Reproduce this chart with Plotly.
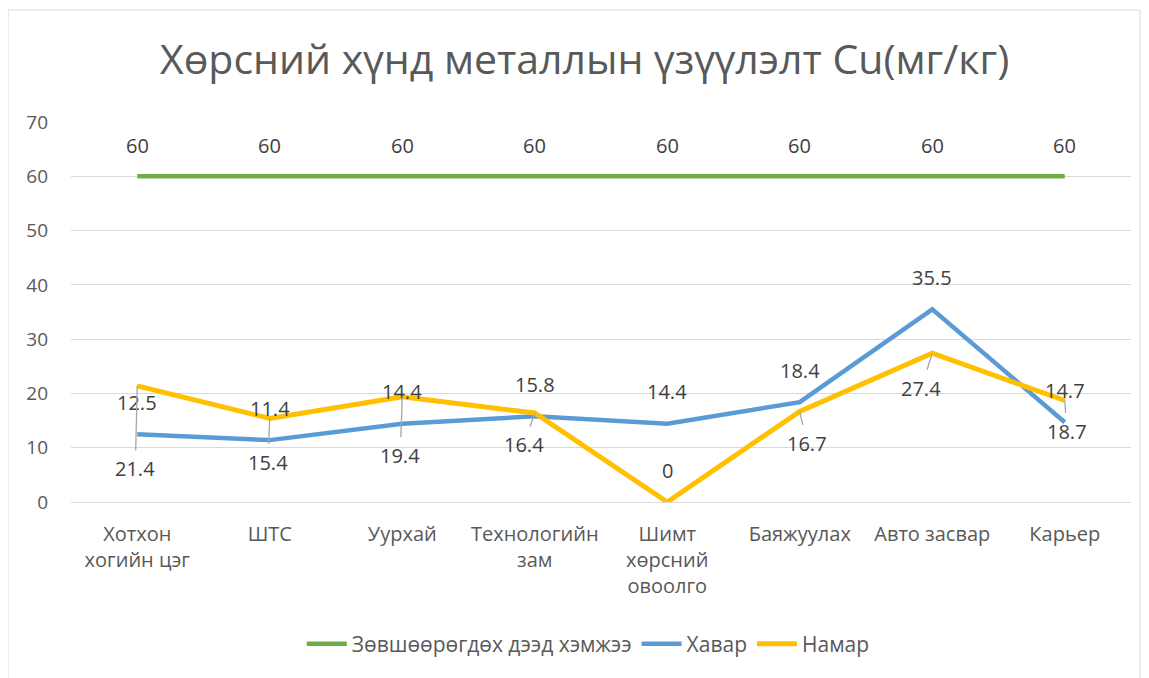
import plotly.graph_objects as go

categories = ["Хотхон<br>хогийн цэг", "ШТС", "Уурхай", "Технологийн<br>зам",
              "Шимт<br>хөрсний<br>овоолго", "Баяжуулах", "Авто засвар", "Карьер"]
limit_vals = [60, 60, 60, 60, 60, 60, 60, 60]
spring_vals = [12.5, 11.4, 14.4, 15.8, 14.4, 18.4, 35.5, 14.7]
autumn_vals = [21.4, 15.4, 19.4, 16.4, 0, 16.7, 27.4, 18.7]

series_names = ["Зөвшөөрөгдөх дээд хэмжээ", "Хавар", "Намар"]
colors = ["#70AD47", "#5B9BD5", "#FFC000"]

# label offsets in pixels (dx, dy down-positive) for autumn labels
autumn_offsets = [(-2, 83), (-2, 44), (-2, 59), (-11, 32), (0, -32), (7, 32), (-11, 35), (2, 31)]
autumn_leader = [True, True, True, True, False, True, True, True]

FONT = "Open Sans"
x_idx = list(range(len(categories)))

fig = go.Figure()
for name, vals, col, w in zip(series_names, [limit_vals, spring_vals, autumn_vals], colors, [4.5, 4.5, 5]):
    fig.add_trace(go.Scatter(x=x_idx, y=vals, mode="lines", name=name,
                             line=dict(color=col, width=w), hoverinfo="skip"))

annotations = []
lbl_font = dict(family=FONT, size=20, color="#404040")
for i, v in enumerate(limit_vals):
    annotations.append(dict(x=i, y=v, xref="x", yref="y", text=str(v), showarrow=False,
                            yshift=31, font=lbl_font))
for i, v in enumerate(spring_vals):
    annotations.append(dict(x=i, y=v, xref="x", yref="y", text=str(v), showarrow=False,
                            yshift=32, font=lbl_font))
for i, v in enumerate(autumn_vals):
    dx, dy = autumn_offsets[i]
    annotations.append(dict(x=i, y=v, xref="x", yref="y", text=str(v), showarrow=True,
                            ax=dx, ay=dy, arrowhead=0, arrowwidth=1.3,
                            arrowcolor="#A6A6A6" if autumn_leader[i] else "rgba(0,0,0,0)",
                            standoff=0, borderpad=5, borderwidth=0, font=lbl_font))

annotations.append(dict(x=0.484, y=1.168, xref="paper", yref="paper", yanchor="middle",
                        text="Хөрсний хүнд металлын үзүүлэлт Cu(мг/кг)", showarrow=False,
                        font=dict(family=FONT, size=41, color="#595959")))

# page has an 8px body margin: figure is 8px smaller and shifted
fig.update_layout(
    width=1141, height=670,
    margin=dict(l=63, r=18, t=114, b=176),
    paper_bgcolor="white", plot_bgcolor="white",
    showlegend=True,
    legend=dict(orientation="h", x=0.488, xanchor="center", y=-0.374, yanchor="middle",
                font=dict(family=FONT, size=21, color="#595959"), itemwidth=40),
    annotations=annotations,
    shapes=[dict(type="rect", xref="paper", yref="paper", x0=-0.0594, x1=1.0085,
                 y0=-0.52, y1=1.2947, line=dict(color="#D9D9D9", width=1))],
)
fig.update_xaxes(range=[-0.5, 7.5], tickvals=x_idx, ticktext=categories, showgrid=False,
                 zeroline=False, showline=False, ticks="", ticklabelstandoff=18,
                 tickfont=dict(family=FONT, size=20, color="#595959"))
fig.update_yaxes(range=[0, 70], dtick=10, showgrid=True, gridcolor="#D9D9D9", gridwidth=1,
                 zeroline=True, zerolinecolor="#D9D9D9", zerolinewidth=1, showline=False,
                 ticks="", ticklabelstandoff=22,
                 tickfont=dict(family=FONT, size=19, color="#595959"))

fig.write_html("out.html")
